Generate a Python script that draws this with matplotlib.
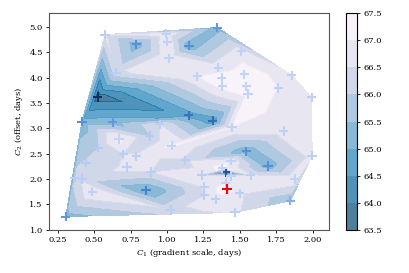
import numpy as np
import matplotlib
matplotlib.use("Agg")
import matplotlib.pyplot as plt
from matplotlib.colors import LinearSegmentedColormap

plt.rcParams['font.family'] = ['DejaVu Serif']
plt.rcParams['mathtext.fontset'] = 'dejavuserif'
plt.rcParams['font.size'] = 6

# sampled points: C1 (gradient scale), C2 (offset), objective value
c1 = [0.575, 0.79, 0.996, 1.003, 1.014, 1.15, 1.345, 1.51, 0.65, 1.352,
      1.208, 1.375, 1.53, 1.856, 1.38, 1.544, 1.555, 1.763, 1.993, 0.523,
      0.416, 0.626, 1.149, 1.313, 0.95, 1.445, 1.80, 0.669, 0.881, 1.032,
      0.525, 0.70, 0.79, 1.126, 1.544, 1.996, 0.443, 0.726, 1.694, 1.438,
      0.366, 0.418, 0.89, 1.24, 1.404, 1.38, 1.438, 1.575, 1.877, 0.486,
      0.856, 1.256, 1.402, 1.409, 1.256, 1.498, 1.334, 1.847, 1.025, 1.466,
      0.304]
c2 = [4.85, 4.66, 4.87, 4.71, 4.38, 4.63, 4.99, 4.52, 4.10, 4.20,
      4.03, 4.00, 4.07, 4.05, 3.83, 3.83, 3.68, 3.80, 3.61, 3.62,
      3.13, 3.12, 3.26, 3.15, 3.08, 3.02, 2.95, 2.79, 2.85, 2.66,
      2.62, 2.49, 2.45, 2.37, 2.55, 2.46, 2.32, 2.24, 2.26, 2.36,
      2.03, 2.00, 2.14, 2.08, 2.13, 2.21, 2.06, 2.07, 2.00, 1.75,
      1.78, 1.85, 1.93, 1.80, 1.68, 1.72, 1.60, 1.57, 1.39, 1.34,
      1.26]
score = [66.6, 65.2, 66.9, 67.0, 67.0, 65.2, 65.3, 66.8, 66.4, 66.8,
         67.0, 67.2, 67.2, 66.8, 67.2, 67.1, 67.2, 67.0, 66.7, 63.7,
         65.2, 65.3, 64.8, 64.7, 66.5, 67.0, 66.8, 67.2, 66.0, 67.1,
         66.0, 66.5, 66.6, 66.4, 65.2, 66.7, 66.1, 66.6, 65.2, 66.9,
         66.2, 66.3, 66.5, 66.6, 64.4, 67.2, 66.8, 66.6, 66.9, 67.0,
         65.0, 66.6, 67.0, 67.4, 66.5, 66.6, 66.7, 65.6, 66.4, 66.6,
         65.3]
levels = [63.5, 64.0, 64.5, 65.0, 65.5, 66.0, 66.5, 67.0, 67.5]
xticks = [0.25, 0.50, 0.75, 1.00, 1.25, 1.50, 1.75, 2.00]
yticks = [1.0, 1.5, 2.0, 2.5, 3.0, 3.5, 4.0, 4.5, 5.0]

x = np.array(c1)
y = np.array(c2)
z = np.array(score)

fig = plt.figure(figsize=(4.09, 2.73), dpi=100)
ax = fig.add_axes([0.12, 0.1586, 0.6837, 0.7924])
cax = fig.add_axes([0.846, 0.1586, 0.0276, 0.7924])

cs = ax.tricontourf(x, y, z, levels=levels, cmap='PuBu_r', alpha=0.7)

mcmap = LinearSegmentedColormap.from_list(
    'markers', [(0.0, '#0b2450'), (0.18, '#1d4a8c'), (0.4, '#4a8ad5'),
                (0.62, '#b5cbf4'), (1.0, '#c5d7f9')])
best = int(np.argmax(z))
mask = np.ones(len(z), bool)
mask[best] = False
ax.scatter(x[mask], y[mask], c=z[mask], cmap=mcmap, vmin=levels[0], vmax=levels[-1],
           marker='+', s=45, linewidths=1.5, zorder=3)
ax.scatter(x[best], y[best], color='red', marker='+', s=45, linewidths=1.5, zorder=4)

ax.set_xlim(0.19, 2.11)
ax.set_ylim(1.0, 5.27)
ax.set_xticks(xticks)
ax.set_yticks(yticks)
ax.set_xticklabels([f'{t:.2f}' for t in xticks])
ax.set_yticklabels([f'{t:.1f}' for t in yticks])
ax.set_xlabel(r'$C_1$ (gradient scale, days)', labelpad=2)
ax.set_ylabel(r'$C_2$ (offset, days)', labelpad=3)
ax.tick_params(length=2.5, width=0.6, pad=2)
for sp in ax.spines.values():
    sp.set_linewidth(0.8)
    sp.set_color('#555555')

cb = fig.colorbar(cs, cax=cax)
cb.set_ticks(levels)
cb.set_ticklabels([f'{v:.1f}' for v in levels])
cb.ax.tick_params(length=2.5, width=0.6, pad=2)
cb.outline.set_linewidth(0.8)

fig.savefig('out.png', dpi=100)
